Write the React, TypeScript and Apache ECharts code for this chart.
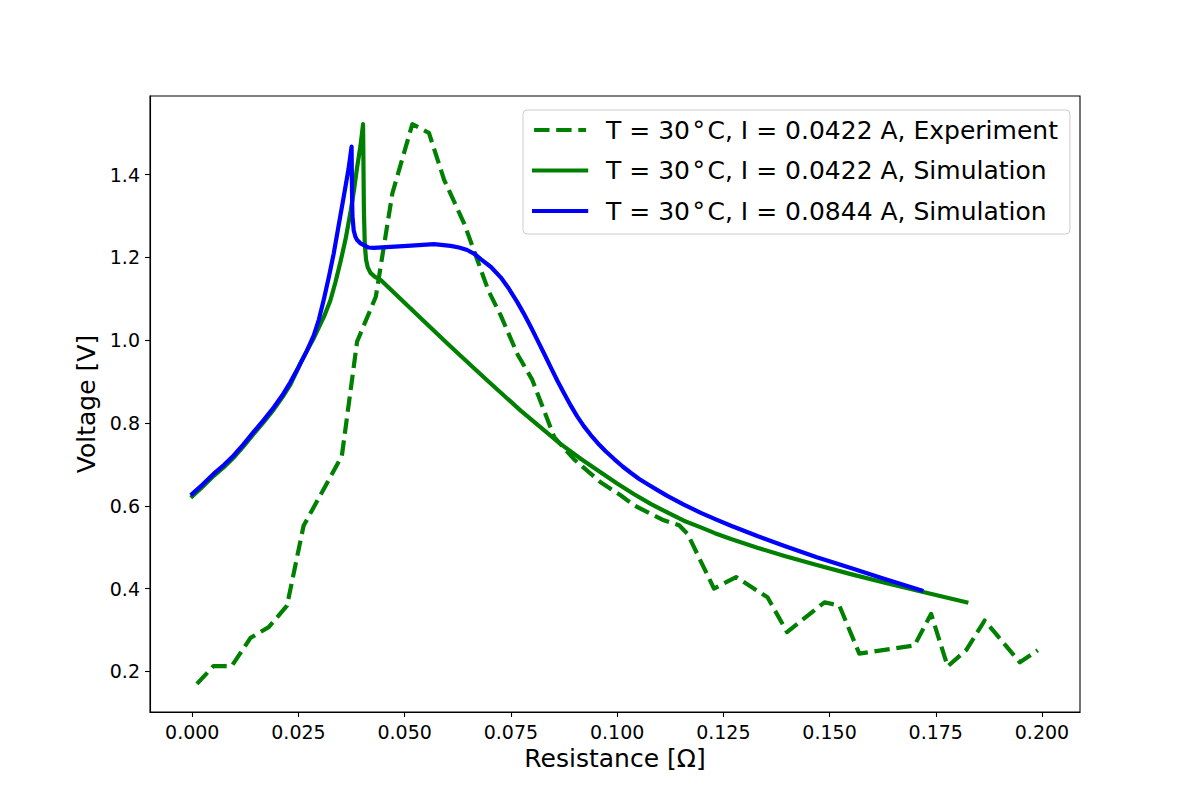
import React, { useEffect, useRef } from "react";
import * as echarts from "echarts";

const expName = "T = 30\u200A°\u200AC, I = 0.0422 A, Experiment";
const simLowName = "T = 30\u200A°\u200AC, I = 0.0422 A, Simulation";
const simHighName = "T = 30\u200A°\u200AC, I = 0.0844 A, Simulation";

const xTicks = [0, 0.025, 0.05, 0.075, 0.1, 0.125, 0.15, 0.175, 0.2];
const yTicks = [0.2, 0.4, 0.6, 0.8, 1.0, 1.2, 1.4];

const expData: [number, number][] = [
  [0.0011, 0.17], [0.005, 0.213], [0.0093, 0.213], [0.0137, 0.281], [0.018, 0.307],
  [0.0223, 0.359], [0.0262, 0.552], [0.0352, 0.72], [0.0388, 0.997], [0.0432, 1.105],
  [0.0471, 1.355], [0.0518, 1.522], [0.0557, 1.501], [0.0593, 1.387], [0.064, 1.282],
  [0.0671, 1.194], [0.0697, 1.12], [0.0726, 1.06], [0.0766, 0.965], [0.08, 0.905],
  [0.0852, 0.766], [0.0899, 0.712], [0.0961, 0.657], [0.1009, 0.625], [0.104, 0.601],
  [0.111, 0.565], [0.1146, 0.553], [0.1166, 0.532], [0.1228, 0.4], [0.128, 0.428],
  [0.1354, 0.379], [0.14, 0.295], [0.1488, 0.367], [0.1523, 0.359], [0.157, 0.243],
  [0.17, 0.263], [0.1739, 0.339], [0.1778, 0.212], [0.1822, 0.252], [0.1865, 0.323],
  [0.1948, 0.222], [0.199, 0.251],
];

const simLowData: [number, number][] = [
  [0.0, 0.623], [0.0025, 0.647], [0.005, 0.672], [0.0075, 0.694], [0.0097, 0.716],
  [0.012, 0.743], [0.0144, 0.773], [0.0168, 0.802], [0.0192, 0.833], [0.0212, 0.862],
  [0.0231, 0.893], [0.0255, 0.945], [0.027, 0.975], [0.0286, 1.005], [0.031, 1.057],
  [0.0325, 1.096], [0.0337, 1.14], [0.0349, 1.19], [0.0361, 1.245], [0.0373, 1.313],
  [0.0381, 1.365], [0.0388, 1.418], [0.0396, 1.47], [0.0402, 1.522], [0.0404, 1.313],
  [0.0406, 1.233], [0.0409, 1.195], [0.0413, 1.176], [0.042, 1.162], [0.043, 1.153],
  [0.0443, 1.146], [0.0525, 1.066], [0.0608, 0.985], [0.069, 0.907], [0.0773, 0.83],
  [0.0865, 0.751], [0.0915, 0.713], [0.0961, 0.681], [0.1, 0.654], [0.104, 0.628],
  [0.108, 0.604], [0.1118, 0.584], [0.1157, 0.564], [0.1197, 0.548], [0.123, 0.534],
  [0.1268, 0.52], [0.133, 0.499], [0.1394, 0.479], [0.147, 0.457], [0.155, 0.435],
  [0.163, 0.414], [0.1708, 0.395], [0.1822, 0.367],
];

const simHighData: [number, number][] = [
  [0.0, 0.629], [0.0025, 0.652], [0.005, 0.677], [0.0075, 0.699], [0.0097, 0.721],
  [0.012, 0.748], [0.0144, 0.778], [0.0168, 0.807], [0.0192, 0.838], [0.0212, 0.867],
  [0.0231, 0.899], [0.025, 0.935], [0.027, 0.975], [0.0286, 1.012], [0.0298, 1.05],
  [0.031, 1.1], [0.0322, 1.155], [0.0333, 1.21], [0.0345, 1.28], [0.0357, 1.35],
  [0.0368, 1.415], [0.0375, 1.468], [0.0376, 1.36], [0.0377, 1.3], [0.038, 1.265],
  [0.0384, 1.25], [0.0388, 1.242], [0.0396, 1.234], [0.0415, 1.224], [0.0427, 1.223],
  [0.0506, 1.228], [0.0569, 1.232], [0.0608, 1.228], [0.0628, 1.224], [0.0647, 1.218],
  [0.0665, 1.208], [0.0679, 1.196], [0.0703, 1.177], [0.0726, 1.152], [0.0745, 1.125],
  [0.0765, 1.092], [0.078, 1.065], [0.0797, 1.032], [0.0815, 0.995], [0.0828, 0.968],
  [0.0845, 0.932], [0.086, 0.901], [0.0875, 0.872], [0.0891, 0.842], [0.0906, 0.816],
  [0.0922, 0.792], [0.0938, 0.771], [0.0954, 0.752], [0.0973, 0.732], [0.0993, 0.713],
  [0.1013, 0.695], [0.1032, 0.68], [0.1052, 0.665], [0.1072, 0.652], [0.1095, 0.638],
  [0.1118, 0.624], [0.1157, 0.603], [0.1197, 0.583], [0.1235, 0.566], [0.1268, 0.552],
  [0.133, 0.527], [0.1394, 0.503], [0.147, 0.476], [0.155, 0.45], [0.163, 0.423],
  [0.1716, 0.396],
];

const FONT = "DejaVu Sans";

export default function App() {
  const ref = useRef<HTMLDivElement>(null);
  useEffect(() => {
    if (!ref.current) return;
    const chart = echarts.init(ref.current, null, { renderer: "svg" });
    const axisCommon = {
      type: "value" as const,
      axisLine: { show: true, onZero: false, lineStyle: { color: "#000", width: 1.1 } },
      splitLine: { show: false },
      nameLocation: "middle" as const,
      nameTextStyle: { fontSize: 25, color: "#000", fontFamily: FONT },
    };
    chart.setOption({
      animation: false,
      backgroundColor: "#fff",
      textStyle: { fontFamily: FONT },
      grid: {
        left: 150, right: 120, top: 96, bottom: 88,
        show: true, borderColor: "#000", borderWidth: 1.1, backgroundColor: "transparent",
      },
      xAxis: {
        ...axisCommon,
        min: -0.00995,
        max: 0.20895,
        name: "Resistance [Ω]",
        nameGap: 34,
        axisTick: { show: true, length: 5, inside: false, customValues: xTicks, lineStyle: { color: "#000", width: 1.1 } },
        axisLabel: {
          customValues: xTicks,
          formatter: (v: number) => v.toFixed(3),
          fontSize: 19, color: "#000", margin: 10, fontFamily: FONT,
        },
      },
      yAxis: {
        ...axisCommon,
        min: 0.102,
        max: 1.59,
        name: "Voltage [V]",
        nameGap: 44,
        axisTick: { show: true, length: 5, inside: false, customValues: yTicks, lineStyle: { color: "#000", width: 1.1 } },
        axisLabel: {
          customValues: yTicks,
          formatter: (v: number) => v.toFixed(1),
          fontSize: 19, color: "#000", margin: 10, fontFamily: FONT,
        },
      },
      legend: {
        show: true,
        orient: "vertical",
        left: 523,
        top: 110,
        padding: [5, 12, 8, 9],
        itemGap: 10.5,
        itemWidth: 52,
        itemHeight: 14,
        borderColor: "#cccccc",
        borderWidth: 1,
        borderRadius: 4,
        backgroundColor: "rgba(255,255,255,0.8)",
        itemStyle: { opacity: 0 },
        lineStyle: { width: 4.2 },
        textStyle: { fontSize: 25, color: "#000", fontFamily: FONT, lineHeight: 30, padding: [0, 0, 0, 15] },
        data: [expName, simLowName, simHighName],
      },
      series: [
        {
          name: expName, type: "line", data: expData, showSymbol: false, symbol: "none",
          lineStyle: { color: "#008000", width: 4.2, type: [15.4, 6.7], cap: "butt", join: "round" },
          itemStyle: { color: "#008000" }, z: 2,
        },
        {
          name: simLowName, type: "line", data: simLowData, showSymbol: false, symbol: "none",
          lineStyle: { color: "#008000", width: 4.2, type: "solid", cap: "square", join: "round" },
          itemStyle: { color: "#008000" }, z: 3,
        },
        {
          name: simHighName, type: "line", data: simHighData, showSymbol: false, symbol: "none",
          lineStyle: { color: "#0000ff", width: 4.2, type: "solid", cap: "square", join: "round" },
          itemStyle: { color: "#0000ff" }, z: 4,
        },
      ],
    });
    return () => chart.dispose();
  }, []);
  return (
    <div
      ref={ref}
      style={{ position: "absolute", left: 0, top: 0, width: 1200, height: 800 }}
    />
  );
}
